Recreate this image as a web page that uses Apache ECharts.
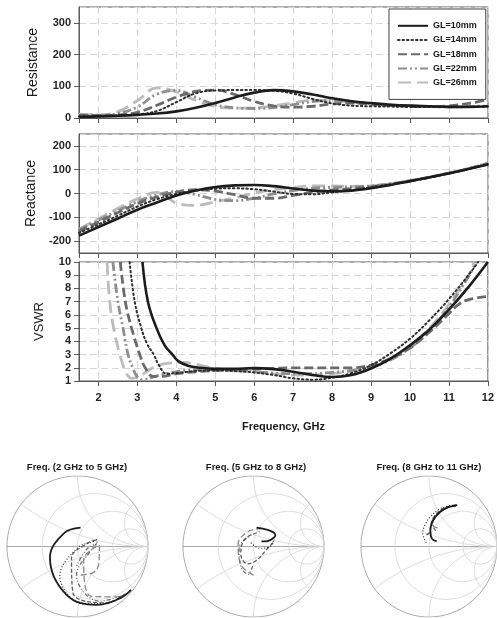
<!DOCTYPE html>
<html><head><meta charset="utf-8">
<script src="https://cdn.jsdelivr.net/npm/echarts@6/dist/echarts.min.js"></script>
<style>html,body{margin:0;padding:0;background:#fff}#c{width:497px;height:618px}</style>
</head><body><div id="c"></div>
<script>
// ---------------- data ----------------
const seriesNames = ['GL=10mm', 'GL=14mm', 'GL=18mm', 'GL=22mm', 'GL=26mm'];
const freq = [1.5, 2, 2.5, 3, 3.5, 4, 4.5, 5, 5.5, 6, 6.5, 7, 7.5, 8, 8.5, 9, 9.5, 10, 10.5, 11, 11.5, 12];

// Resistance (ohm)
const resGL10 = [3, 5, 7, 10, 14, 21, 32, 47, 65, 80, 88, 84, 74, 62, 53, 47, 42, 39, 37, 35, 35, 37];
const resGL14 = [5, 6, 8, 11, 22, 50, 78, 87, 88, 88, 86, 77, 60, 46, 39, 37, 36, 35, 35, 35, 35, 36];
const resGL18 = [8, 8, 10, 18, 40, 66, 84, 88, 74, 52, 38, 34, 37, 44, 47, 44, 40, 37, 36, 38, 46, 58];
const resGL22 = [10, 9, 14, 35, 75, 87, 65, 42, 32, 30, 33, 42, 52, 55, 50, 45, 41, 38, 36, 35, 36, 38];
const resGL26 = [12, 10, 20, 55, 95, 82, 55, 36, 31, 32, 38, 48, 56, 55, 50, 45, 41, 38, 36, 35, 36, 38];

// Reactance (ohm)
const reaGL10 = [-177, -141, -105, -68, -38, -8, 13, 27, 34, 36, 31, 21, 12, 9, 12, 22, 36, 52, 68, 85, 103, 122];
const reaGL14 = [-165, -130, -93, -55, -24, -2, 12, 20, 22, 18, 8, -2, -3, 5, 15, 26, 38, 52, 67, 84, 102, 123];
const reaGL18 = [-158, -120, -80, -42, -14, 6, 16, 10, -5, -20, -20, -8, 6, 15, 20, 28, 39, 53, 68, 85, 104, 126];
const reaGL22 = [-152, -112, -72, -34, -6, 8, -5, -25, -30, -20, -2, 12, 22, 26, 28, 32, 41, 54, 69, 86, 105, 127];
const reaGL26 = [-150, -106, -62, -22, 5, -40, -50, -35, -18, 2, 16, 25, 32, 32, 30, 32, 41, 54, 69, 86, 105, 128];

// VSWR  [frequency GHz, VSWR]
const vswrGL10 = [[3.13,10],[3.27,7],[3.49,5],[3.7,3.7],[3.9,3.0],[4.05,2.5],[4.3,2.15],[4.6,2.0],[5,1.92],[5.5,1.93],[6,1.97],[6.5,1.9],[7,1.7],[7.5,1.45],[8,1.3],[8.5,1.45],[9,1.95],[9.5,2.7],[10,3.7],[10.5,4.9],[11,6.4],[11.5,8.1],[12,10]];
const vswrGL14 = [[2.8,10],[2.93,7],[3.1,5],[3.25,3.8],[3.42,3.0],[3.55,2.2],[3.75,1.55],[4,1.6],[4.5,1.75],[5,1.8],[5.5,1.75],[6,1.65],[6.5,1.45],[7,1.2],[7.5,1.1],[8,1.25],[8.5,1.6],[9,2.2],[9.5,3.1],[10,4.2],[10.5,5.6],[11,7.2],[11.5,9],[11.75,10]];
const vswrGL18 = [[2.56,10],[2.69,7],[2.85,5],[3.06,3.0],[3.2,2.0],[3.4,1.35],[3.6,1.35],[4,1.55],[4.5,1.7],[5,1.8],[5.5,1.85],[6,1.9],[6.5,1.95],[7,2.0],[7.5,2.0],[8,2.0],[8.5,2.0],[9,2.2],[9.5,2.7],[10,3.5],[10.5,4.7],[11,6.1],[11.25,6.8],[11.5,7.15],[12,7.4]];
const vswrGL22 = [[2.37,10],[2.5,7],[2.63,5],[2.76,3.0],[2.88,2.0],[3.0,1.3],[3.15,1.1],[3.4,1.3],[3.8,1.6],[4.5,1.85],[5,1.85],[5.5,1.8],[6,1.7],[6.5,1.6],[7,1.55],[7.5,1.55],[8,1.65],[8.5,1.8],[9,2.05],[9.5,2.6],[10,3.5],[10.5,4.8],[11,6.6],[11.5,8.9],[11.7,10]];
const vswrGL26 = [[2.22,10],[2.29,7],[2.39,5],[2.55,3.0],[2.7,1.7],[2.85,1.2],[3.05,1.35],[3.4,2.0],[3.8,2.35],[4.2,2.4],[4.6,2.2],[5,1.95],[5.5,1.8],[6,1.7],[6.5,1.55],[7,1.45],[7.5,1.45],[8,1.55],[8.5,1.75],[9,2.05],[9.5,2.7],[10,3.7],[10.5,5.0],[11,6.8],[11.5,9.0],[11.65,10]];

// Smith chart panels
const smithRanges = [[2, 5], [5, 8], [8, 11]];
const smithTitles = ['Freq. (2 GHz to 5 GHz)', 'Freq. (5 GHz to 8 GHz)', 'Freq. (8 GHz to 11 GHz)'];
const smithRCircles = [1 / 3, 1, 3];
const smithXArcs = [1 / 3, 1, 3, -1 / 3, -1, -3];
const Z0 = 50;

// ---------------- styling ----------------
const FONT = '"Liberation Sans", Arial, sans-serif';
const resAll = [resGL10, resGL14, resGL18, resGL22, resGL26];
const reaAll = [reaGL10, reaGL14, reaGL18, reaGL22, reaGL26];
const vswrAll = [vswrGL10, vswrGL14, vswrGL18, vswrGL22, vswrGL26];
const lineStyles = [
  { color: '#1c1c1c', width: 2.6, type: 'solid' },
  { color: '#2e2e2e', width: 2.0, type: [1.5, 3], cap: 'round' },
  { color: '#6a6a6a', width: 2.8, type: [9, 4] },
  { color: '#8e8e8e', width: 2.8, type: [9, 3, 2, 3, 2, 3] },
  { color: '#bcbcbc', width: 2.8, type: [13, 6] }
];
const smithStyles = [
  { color: '#1c1c1c', width: 1.8, type: 'solid' },
  { color: '#2e2e2e', width: 1.2, type: [1, 2] },
  { color: '#5a5a5a', width: 1.3, type: [4, 2] },
  { color: '#6e6e6e', width: 1.3, type: [4, 2, 1, 2, 1, 2] },
  { color: '#8a8a8a', width: 1.3, type: [6, 3] }
];

const PL = 79, PW = 409;
const grids = [
  { left: PL, top: 7, width: PW, height: 111 },
  { left: PL, top: 134, width: PW, height: 119 },
  { left: PL, top: 262, width: PW, height: 119 },
  { left: 7, top: 476, width: 141, height: 141 },
  { left: 183, top: 476, width: 141, height: 141 },
  { left: 361, top: 476, width: 141, height: 141 }
].map((g, i) => Object.assign(g, i < 3 ? { show: true, borderColor: '#595959', borderWidth: 1, backgroundColor: '#fff' } : { show: false }));

const axisLineCol = '#595959';
const splitCol = '#d6d6d6';
function xAxisCfg(gi, labels) {
  return {
    type: 'value', gridIndex: gi, min: 1.5, max: 12, splitNumber: 10,
    axisLine: { show: true, onZero: false, lineStyle: { color: axisLineCol } },
    axisTick: { show: true, length: 5, lineStyle: { color: axisLineCol } },
    axisLabel: { show: labels, showMinLabel: false, margin: 11, fontSize: 11, fontWeight: 'bold', color: '#222', fontFamily: FONT },
    splitLine: { show: true, lineStyle: { color: splitCol, type: [7, 4] } },
    name: labels ? 'Frequency, GHz' : '', nameLocation: 'middle', nameGap: 40,
    nameTextStyle: { fontSize: 11, fontWeight: 'bold', color: '#1a1a1a', fontFamily: FONT }
  };
}
function yAxisCfg(gi, min, max, extra, name, gap, fs) {
  return Object.assign({
    type: 'value', gridIndex: gi, min: min, max: max,
    axisLine: { show: true, onZero: false, lineStyle: { color: axisLineCol } },
    axisTick: { show: true, length: 5, lineStyle: { color: axisLineCol } },
    axisLabel: { margin: 8, fontSize: 11, fontWeight: 'bold', color: '#262626', fontFamily: FONT, showMinLabel: extra.hideMin ? false : true, showMaxLabel: extra.hideMax ? false : true },
    splitLine: { show: true, lineStyle: { color: splitCol, type: [7, 4] } },
    name: name, nameLocation: 'middle', nameGap: gap, nameRotate: 90,
    nameTextStyle: { fontSize: fs, color: '#1a1a1a', fontFamily: FONT }
  }, extra.axis);
}

const xAxes = [xAxisCfg(0, false), xAxisCfg(1, false), xAxisCfg(2, true)];
const yAxes = [
  yAxisCfg(0, 0, 350, { hideMax: true, axis: { interval: 100 } }, 'Resistance', 39, 14),
  yAxisCfg(1, -250, 250, { hideMin: true, hideMax: true, axis: { splitNumber: 5 } }, 'Reactance', 39, 14),
  yAxisCfg(2, 1, 10, { axis: { interval: 1 } }, 'VSWR', 33, 13)
];
for (let k = 0; k < 3; k++) {
  xAxes.push({ type: 'value', gridIndex: 3 + k, min: -1, max: 1, show: false });
  yAxes.push({ type: 'value', gridIndex: 3 + k, min: -1, max: 1, show: false });
}

const series = [];
function common(i) {
  return { name: seriesNames[i], type: 'line', symbol: 'none', showSymbol: false, smooth: 0.4, lineStyle: Object.assign({}, lineStyles[i]), itemStyle: { color: lineStyles[i].color }, z: 10 - i, emphasis: { disabled: true }, animation: false };
}
seriesNames.forEach((n, i) => {
  series.push(Object.assign(common(i), { xAxisIndex: 0, yAxisIndex: 0, data: freq.map((f, j) => [f, resAll[i][j]]) }));
  series.push(Object.assign(common(i), { xAxisIndex: 1, yAxisIndex: 1, data: freq.map((f, j) => [f, reaAll[i][j]]) }));
  series.push(Object.assign(common(i), { xAxisIndex: 2, yAxisIndex: 2, data: vswrAll[i] }));
});

// Smith chart furniture (normalised constant-r circles and constant-x arcs)
function gammaN(r, x) { const d = (r + 1) * (r + 1) + x * x; return [(r * r - 1 + x * x) / d, 2 * x / d]; }
function gridLine(k, pts, color, width) {
  return { type: 'line', xAxisIndex: 3 + k, yAxisIndex: 3 + k, data: pts, symbol: 'none', silent: true, animation: false, lineStyle: { color: color, width: width }, z: 1, emphasis: { disabled: true } };
}
for (let k = 0; k < 3; k++) {
  const outer = [];
  for (let a = 0; a <= 180; a++) { const t = a / 180 * 2 * Math.PI; outer.push([Math.cos(t), Math.sin(t)]); }
  series.push(gridLine(k, outer, '#a8a8a8', 1));
  series.push(gridLine(k, [[-1, 0], [1, 0]], '#a8a8a8', 1));
  smithRCircles.forEach(r => {
    const c = r / (1 + r), rad = 1 / (1 + r), pts = [];
    for (let a = 0; a <= 160; a++) { const t = a / 160 * 2 * Math.PI; pts.push([c + rad * Math.cos(t), rad * Math.sin(t)]); }
    series.push(gridLine(k, pts, '#d4d4d4', 0.8));
  });
  smithXArcs.forEach(x => {
    const pts = [];
    for (let a = 0; a < 120; a++) { const phi = a / 120 * Math.PI / 2; pts.push(gammaN(Math.tan(phi), x)); }
    pts.push([1, 0]);
    series.push(gridLine(k, pts, '#d4d4d4', 0.8));
  });
}
// Smith chart traces: reflection coefficient from the R and X data (Z0 = 50 ohm)
function gamma(r, x) { const d = (r + Z0) * (r + Z0) + x * x; return [(r * r - Z0 * Z0 + x * x) / d, 2 * Z0 * x / d]; }
smithRanges.forEach((rg, k) => {
  seriesNames.forEach((n, i) => {
    const pts = [];
    freq.forEach((f, j) => { if (f >= rg[0] - 1e-9 && f <= rg[1] + 1e-9) pts.push(gamma(resAll[i][j], reaAll[i][j])); });
    series.push({ name: n, type: 'line', xAxisIndex: 3 + k, yAxisIndex: 3 + k, data: pts, symbol: 'none', smooth: 0.4, animation: false, z: 10 - i,
      lineStyle: Object.assign({}, smithStyles[i]), itemStyle: { color: smithStyles[i].color }, emphasis: { disabled: true } });
  });
});

const titleX = [77, 256, 429];
const graphics = smithTitles.map((t, k) => ({
  type: 'text', x: titleX[k], y: 467, silent: true,
  style: { text: t, textAlign: 'center', textVerticalAlign: 'middle', fontSize: 9.5, fontWeight: 'bold', fill: '#1a1a1a', fontFamily: FONT }
}));

const chart = echarts.init(document.getElementById('c'), null, { renderer: 'canvas', width: 497, height: 618 });
chart.setOption({
  animation: false,
  backgroundColor: '#fff',
  grid: grids,
  xAxis: xAxes,
  yAxis: yAxes,
  legend: {
    data: seriesNames, orient: 'vertical', left: 389, top: 9,
    itemWidth: 30, itemHeight: 12, itemGap: 4.6, padding: [12, 9, 12, 8],
    itemStyle: { opacity: 0 },
    backgroundColor: '#fff', borderColor: '#404040', borderWidth: 1, z: 20,
    textStyle: { fontSize: 9, fontWeight: 'bold', color: '#1a1a1a', fontFamily: FONT }
  },
  graphic: graphics,
  series: series
});
</script></body></html>
